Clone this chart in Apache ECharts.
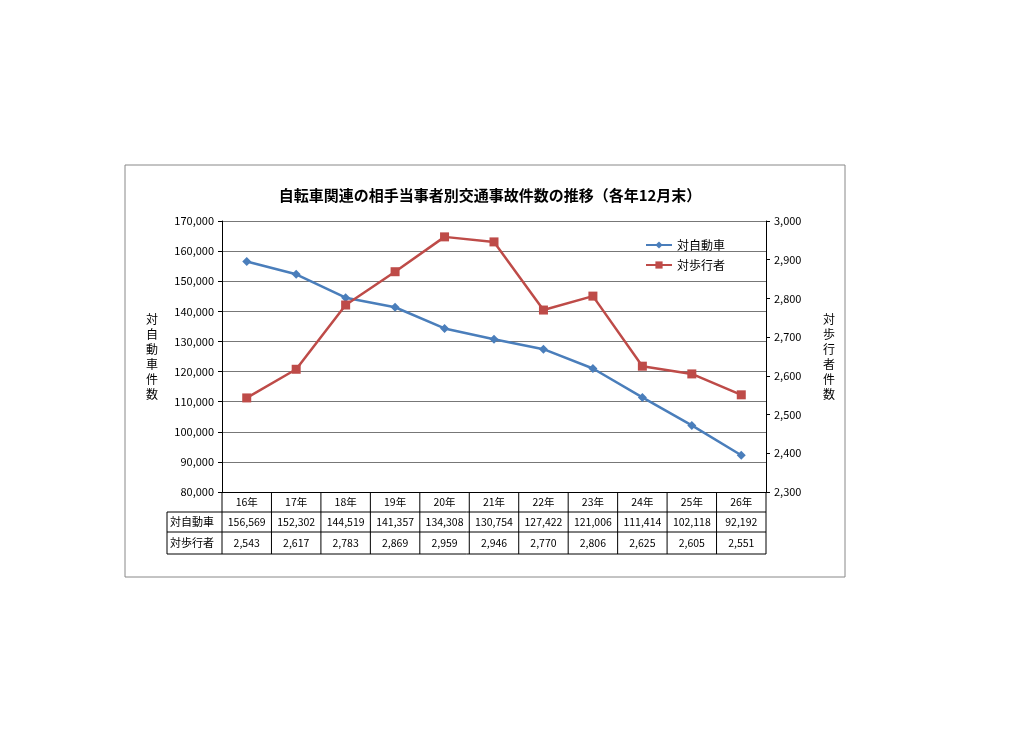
<!DOCTYPE html>
<html><head><meta charset="utf-8">
<script src="https://cdn.jsdelivr.net/npm/echarts@6/dist/echarts.min.js"></script>
<style>body{margin:0;background:#fff}#c{width:1024px;height:756px}</style></head>
<body><div id="c"></div>
<script>
const categories=['16年','17年','18年','19年','20年','21年','22年','23年','24年','25年','26年'];
const carValues=[156569,152302,144519,141357,134308,130754,127422,121006,111414,102118,92192];
const pedValues=[2543,2617,2783,2869,2959,2946,2770,2806,2625,2605,2551];
const fmt=v=>v.toLocaleString('en-US');
const GL=222,GR=766,GT=221,GB=492,LX=167;
const font='"Noto Sans CJK JP", sans-serif';
const chart=echarts.init(document.getElementById('c'));
const lines=[];
[GB+20,GB+40,GB+62].forEach(y=>lines.push({type:'line',shape:{x1:LX,y1:y,x2:GR,y2:y},style:{stroke:'#000',lineWidth:1}}));
lines.push({type:'line',shape:{x1:LX,y1:GB+20,x2:LX,y2:GB+62},style:{stroke:'#000',lineWidth:1}});
const cw=(GR-GL)/categories.length;
for(let i=0;i<=categories.length;i++){const x=GL+i*cw;lines.push({type:'line',shape:{x1:x,y1:GB,x2:x,y2:GB+62},style:{stroke:'#000',lineWidth:1}});}
lines.push({type:'text',left:LX+3,top:GB+24,style:{text:'対自動車',font:'11px '+font,fill:'#000'}});
lines.push({type:'text',left:LX+3,top:GB+45,style:{text:'対歩行者',font:'11px '+font,fill:'#000'}});
lines.push({type:'rect',shape:{x:125,y:165,width:720,height:412},style:{fill:'none',stroke:'#888',lineWidth:1},z:-1});
const lbl={fontFamily:font,fontSize:10.5,color:'#000',margin:5,interval:0};
chart.setOption({
 animation:false,
 title:{text:'自転車関連の相手当事者別交通事故件数の推移（各年12月末）',left:485,textAlign:'center',top:183,textStyle:{fontFamily:font,fontSize:15,fontWeight:'bold',color:'#000'}},
 legend:{orient:'vertical',left:640,top:234,itemGap:8,itemWidth:26,itemHeight:9,textStyle:{fontFamily:font,fontSize:12,color:'#000'},data:['対自動車','対歩行者']},
 grid:{left:GL,right:1024-GR,top:GT,bottom:756-GB},
 xAxis:[
  {type:'category',data:categories,position:'bottom',axisLine:{lineStyle:{color:'#000'}},axisTick:{show:false},axisLabel:lbl},
  {type:'category',data:carValues.map(fmt),position:'bottom',offset:20,axisLine:{show:false},axisTick:{show:false},axisLabel:lbl},
  {type:'category',data:pedValues.map(fmt),position:'bottom',offset:41,axisLine:{show:false},axisTick:{show:false},axisLabel:lbl}
 ],
 yAxis:[
  {type:'value',min:80000,max:170000,interval:10000,axisLine:{show:true,lineStyle:{color:'#000'}},axisTick:{show:true,length:4},splitLine:{lineStyle:{color:'#777'}},axisLabel:{formatter:fmt,fontFamily:font,fontSize:11,color:'#000'},
   name:'対\n自\n動\n車\n件\n数',nameLocation:'middle',nameRotate:0,nameGap:64,nameTextStyle:{fontFamily:font,fontSize:12,color:'#000',lineHeight:15}},
  {type:'value',min:2300,max:3000,interval:100,axisLine:{show:true,lineStyle:{color:'#000'}},axisTick:{show:true,length:4},splitLine:{show:false},axisLabel:{formatter:fmt,fontFamily:font,fontSize:11,color:'#000'},
   name:'対\n歩\n行\n者\n件\n数',nameLocation:'middle',nameRotate:0,nameGap:57,nameTextStyle:{fontFamily:font,fontSize:12,color:'#000',lineHeight:15}}
 ],
 series:[
  {name:'対自動車',type:'line',data:carValues,yAxisIndex:0,symbol:'diamond',symbolSize:9,lineStyle:{color:'#4a7ebb',width:2.5},itemStyle:{color:'#4a7ebb'}},
  {name:'対歩行者',type:'line',data:pedValues,yAxisIndex:1,symbol:'rect',symbolSize:9,lineStyle:{color:'#be4b48',width:2.5},itemStyle:{color:'#be4b48'}}
 ],
 graphic:lines
});
</script></body></html>
